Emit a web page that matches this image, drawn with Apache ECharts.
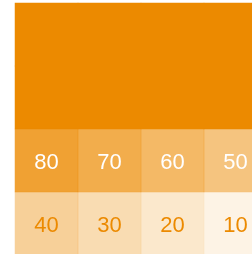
<!DOCTYPE html>
<html>
<head>
<meta charset="utf-8">
<script src="https://cdn.jsdelivr.net/npm/echarts@6/dist/echarts.min.js"></script>
<style>
	html, body { margin: 0; padding: 0; background: #fff; }
	#chart { width: 252px; height: 254px; }
</style>
</head>
<body>
<div id="chart"></div>
<script>
"use strict";

const columns = ["c1", "c2", "c3", "c4"];
const rows = ["top1", "top2", "r1", "r2"];
const headerValues = [100, 100, 100, 100];
const row1Values = [80, 70, 60, 50];
const row2Values = [40, 30, 20, 10];

const base = [236, 138, 0];

const cell = (x, y, v, showLabel) => ({
	value: [x, y, v],
	itemStyle: { color: "rgba(" + base.join(",") + "," + (v / 100) + ")" },
	label: {
		show: showLabel,
		color: v >= 50 ? "#fff" : "#EC8A00"
	}
});

const data = [];
headerValues.forEach((v, i) => {
	data.push(cell(i, 0, v, false));
	data.push(cell(i, 1, v, false));
});
row1Values.forEach((v, i) => data.push(cell(i, 2, v, true)));
row2Values.forEach((v, i) => data.push(cell(i, 3, v, true)));

const chart = echarts.init(document.getElementById("chart"));
chart.setOption({
	animation: false,
	grid: {
		left: 15, top: 3, width: 252, height: 252,
		containLabel: false,
		outerBoundsMode: "none"
	},
	xAxis: {
		type: "category",
		data: columns,
		show: false
	},
	yAxis: {
		type: "category",
		data: rows,
		inverse: true,
		show: false
	},
	series: [{
		type: "heatmap",
		data: data,
		label: {
			show: true,
			fontSize: 22,
			offset: [0, 2],
			fontFamily: "Liberation Sans, Arial, sans-serif",
			formatter: (p) => p.value[2]
		},
		emphasis: { disabled: true }
	}]
});
</script>
</body>
</html>
